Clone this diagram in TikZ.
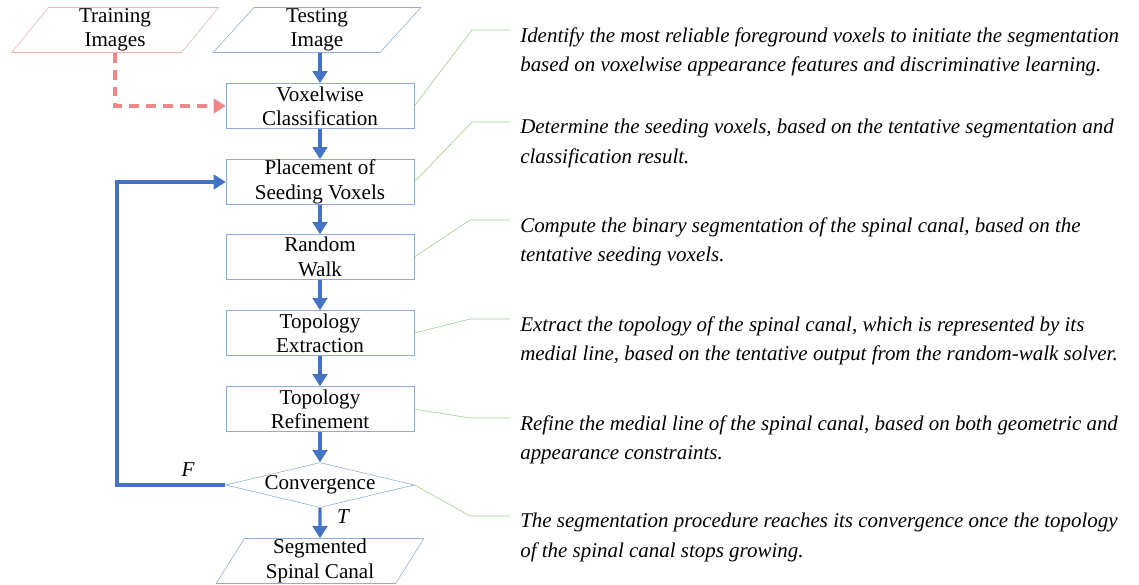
\documentclass[tikz,border=0pt]{standalone}
\usepackage{fontspec}
\setmainfont{Liberation Serif}
\usetikzlibrary{shapes.geometric, arrows.meta, positioning}
\definecolor{boxblue}{RGB}{143,170,220}
\definecolor{flowblue}{RGB}{68,114,196}
\definecolor{trainpink}{RGB}{244,177,177}
\definecolor{dashpink}{RGB}{242,134,134}
\definecolor{notegreen}{RGB}{160,205,140}

\begin{document}
\begin{tikzpicture}[x=0.025cm, y=-0.025cm,
    stepbox/.style={rectangle, draw=boxblue, thin, minimum width=4.7cm, minimum height=1.125cm, inner sep=0pt, align=center, font=\fontsize{15}{17.3}\selectfont},
    iobox/.style={trapezium, trapezium left angle=65, trapezium right angle=115, trapezium stretches=true, draw=boxblue, thin, minimum width=5.2cm, minimum height=1.125cm, inner sep=0pt, align=center, font=\fontsize{15}{17.3}\selectfont},
    decision/.style={diamond, aspect=4.2, draw=boxblue, thin, minimum width=4.675cm, minimum height=1.125cm, inner sep=0pt, font=\fontsize{15}{17.3}\selectfont},
    flow/.style={draw=flowblue, line width=2.2pt, -{Triangle[length=0.3cm, width=0.36cm]}},
    dashflow/.style={draw=dashpink, line width=2.2pt, dash pattern=on 7pt off 5pt, -{Triangle[length=0.3cm, width=0.36cm]}},
    note/.style={anchor=north west, align=left, inner xsep=0.25cm, inner ysep=0pt, font=\fontsize{14.9}{21.3}\selectfont\itshape},
    noteline/.style={draw=notegreen, thin},
    lbl/.style={font=\fontsize{15}{17}\selectfont\itshape, inner sep=1pt}
]
    \useasboundingbox (0,0) rectangle (1139,585);

    % flow chart
    \node[iobox, draw=trainpink] (train) at (115, 30) {Training\\Images};
    \node[iobox] (test) at (317, 30) {Testing\\Image};
    \node[stepbox] (vox) at (320, 106) {Voxelwise\\Classification};
    \node[stepbox] (seed) at (320, 182) {Placement of\\Seeding Voxels};
    \node[stepbox] (walk) at (320, 257) {Random\\Walk};
    \node[stepbox] (extr) at (320, 333) {Topology\\Extraction};
    \node[stepbox] (refi) at (320, 409) {Topology\\Refinement};
    \node[decision] (conv) at (320, 485) {Convergence};
    \node[iobox] (seg) at (320, 561) {Segmented\\Spinal Canal};

    \draw[flow] (vox.north |- test.south) -- (vox.north);
    \draw[flow] (vox) -- (seed);
    \draw[flow] (seed) -- (walk);
    \draw[flow] (walk) -- (extr);
    \draw[flow] (extr) -- (refi);
    \draw[flow] (refi) -- (conv);
    \draw[flow] (conv) -- (seg);

    \coordinate (loop) at (117, 485);
    \draw[flow] (conv.west) -- (loop) |- (seed.west);
    \draw[dashflow] (train.south -| train.center) |- (vox.west);

    \node[lbl] (flab) at (188, 470) {F};
    \node[lbl] (tlab) at (343, 517) {T};

    % notes
    \node[note] (n1) at (510, 27) {Identify the most reliable foreground voxels to initiate the segmentation\\based on voxelwise appearance features and discriminative learning.};
    \node[note] (n2) at (510, 119) {Determine the seeding voxels, based on the tentative segmentation and\\classification result.};
    \node[note] (n3) at (510, 217) {Compute the binary segmentation of the spinal canal, based on the\\tentative seeding voxels.};
    \node[note] (n4) at (510, 316) {Extract the topology of the spinal canal, which is represented by its\\medial line, based on the tentative output from the random-walk solver.};
    \node[note] (n5) at (510, 415) {Refine the medial line of the spinal canal, based on both geometric and\\appearance constraints.};
    \node[note] (n6) at (510, 513) {The segmentation procedure reaches its convergence once the topology\\of the spinal canal stops growing.};

    \coordinate (b1) at (472, 30);
    \coordinate (b2) at (472, 122);
    \coordinate (b3) at (470, 220);
    \coordinate (b4) at (470, 319);
    \coordinate (b5) at (470, 418);
    \coordinate (b6) at (470, 516);
    \draw[noteline] (vox.east) -- (b1) -- (b1 -| n1.west);
    \draw[noteline] (seed.east) -- (b2) -- (b2 -| n2.west);
    \draw[noteline] (walk.east) -- (b3) -- (b3 -| n3.west);
    \draw[noteline] (extr.east) -- (b4) -- (b4 -| n4.west);
    \draw[noteline] (refi.east) -- (b5) -- (b5 -| n5.west);
    \draw[noteline] (conv.east) -- (b6) -- (b6 -| n6.west);
\end{tikzpicture}
\end{document}
